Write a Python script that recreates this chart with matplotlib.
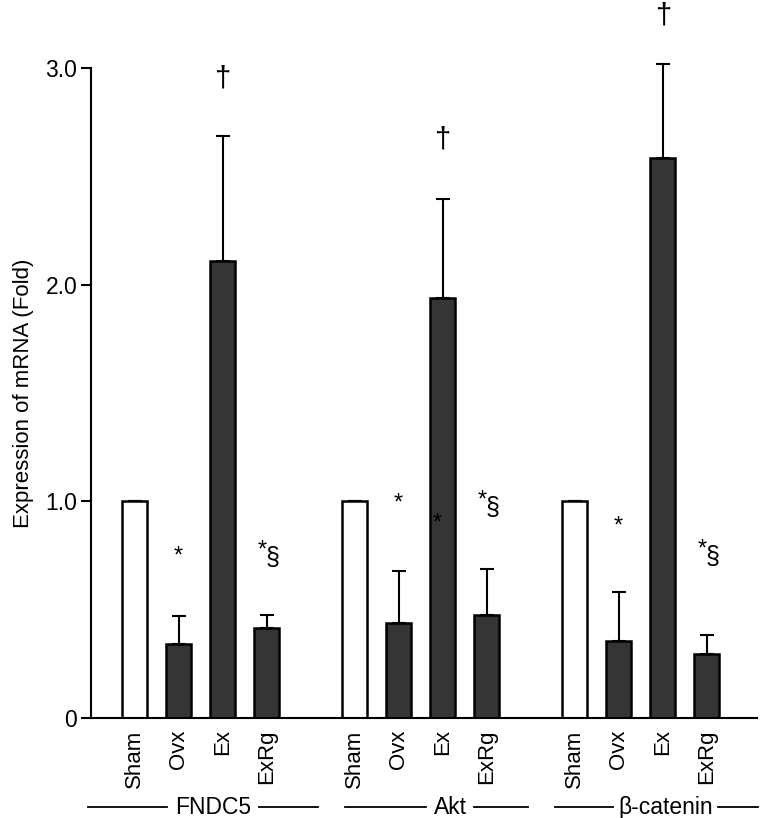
import matplotlib
matplotlib.use("Agg")
import matplotlib.pyplot as plt
import matplotlib.transforms as mtransforms
import numpy as np

plt.rcParams["font.family"] = ["Liberation Sans", "DejaVu Sans"]

groups = ["FNDC5", "Akt", "β-catenin"]
conditions = ["Sham", "Ovx", "Ex", "ExRg"]

fndc5_mean = [1.0, 0.344, 2.109, 0.417]
fndc5_err = [0.0, 0.126, 0.577, 0.061]
akt_mean = [1.0, 0.44, 1.94, 0.475]
akt_err = [0.0, 0.238, 0.455, 0.215]
bcat_mean = [1.0, 0.357, 2.586, 0.294]
bcat_err = [0.0, 0.223, 0.431, 0.092]

# significance marks: (group index, condition index, label, y)
marks = [
    (0, 1, "*", 0.745), (0, 3, "*§", 0.74), (0, 2, "†", 2.95),
    (1, 1, "*", 0.99), (1, 2, "*", 0.90), (1, 3, "*§", 0.97), (1, 2, "†", 2.67),
    (2, 1, "*", 0.886), (2, 3, "*§", 0.745), (2, 2, "†", 3.24),
]

means = [fndc5_mean, akt_mean, bcat_mean]
errs = [fndc5_err, akt_err, bcat_err]

fig = plt.figure(figsize=(7.65, 8.18), dpi=100)
ax = fig.add_axes([0.119, 0.122, 0.871, 0.795])

width = 0.57
xs_all, labels_all = [], []
for g, (m, e) in enumerate(zip(means, errs)):
    x = np.arange(4) + 5 * g
    colors = ["white", "#353535", "#353535", "#353535"]
    ax.bar(x, m, width=width, color=colors, edgecolor="black", linewidth=1.8, zorder=2)
    eb = ax.errorbar(x, m, yerr=[np.zeros(4), e], fmt="none", ecolor="black",
                     elinewidth=1.5, capsize=4.7, capthick=1.5, zorder=3)
    for art in eb.lines[1] + eb.lines[2]:
        art.set_clip_on(False)
    xs_all.extend(x)
    labels_all.extend(conditions)

for g, c, lab, y in marks:
    x = 5 * g + c
    if lab == "*§":
        # raised asterisk followed by a larger section sign
        ax.text(x - 0.11, y + 0.035, "*", ha="center", va="center", fontsize=17,
                clip_on=False, zorder=4)
        ax.text(x + 0.13, y, "§", ha="center", va="center", fontsize=18,
                clip_on=False, zorder=4)
        continue
    if lab == "*" and c == 2:
        x -= 0.12
    fs = 21 if lab == "†" else 17
    ax.text(x, y, lab, ha="center", va="center", fontsize=fs,
            clip_on=False, zorder=4)

ax.set_xlim(-0.99, 14.15)
ax.set_ylim(0, 3.0)
ax.set_yticks([0, 1, 2, 3])
ax.set_yticklabels(["0", "1.0", "2.0", "3.0"], fontsize=16.5)
ax.set_xticks(xs_all)
ax.set_xticklabels(labels_all, rotation=90, fontsize=16)
ax.tick_params(axis="x", length=0, pad=8)
ax.tick_params(axis="y", length=7, width=1.5, direction="out", pad=3)
ax.set_ylabel("Expression of mRNA (Fold)", fontsize=16, labelpad=8)

for side in ["top", "right"]:
    ax.spines[side].set_visible(False)
ax.spines["left"].set_linewidth(1.5)
ax.spines["bottom"].set_linewidth(1.5)

# group labels with lines under the tick labels
trans = mtransforms.blended_transform_factory(ax.transData, ax.transAxes)
spans = [(-1.06, 4.17, 1.78), (4.78, 8.94, 7.17), (9.56, 14.17, 12.06)]
half_widths = [0.95, 0.45, 1.1]
y_grp = -0.137
for name, (x0, x1, xc), half in zip(groups, spans, half_widths):
    ax.text(xc, y_grp, name, ha="center", va="center", fontsize=16.5,
            transform=trans, clip_on=False)
    ax.plot([x0, xc - half - 0.1], [y_grp, y_grp], color="black", lw=1.3,
            transform=trans, clip_on=False)
    ax.plot([xc + half + 0.1, x1], [y_grp, y_grp], color="black", lw=1.3,
            transform=trans, clip_on=False)

fig.savefig("out.png", dpi=100)
